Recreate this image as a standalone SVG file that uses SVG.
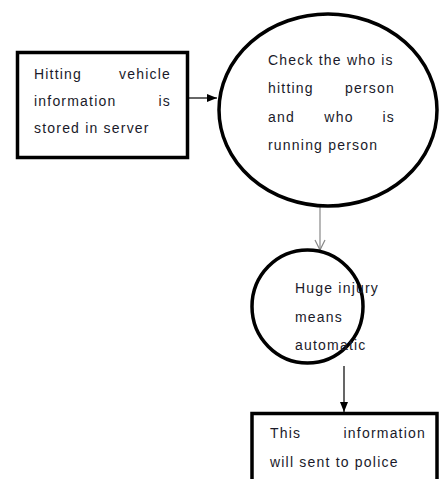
<svg xmlns="http://www.w3.org/2000/svg" width="440" height="479" viewBox="0 0 440 479">
<defs>
<style>
.box{fill:#fff;stroke:#000;stroke-width:3.5}
.t{font-family:"Liberation Sans",Arial,sans-serif;font-size:14px;letter-spacing:1.2px;fill:#1a1a2a}
.e{text-anchor:end}
.m{text-anchor:middle}
.ln{stroke:#000;stroke-width:1.2;fill:none}
.lg{stroke:#888;stroke-width:1.2;fill:none}
</style>
<marker id="fa" viewBox="0 0 10 10" refX="10" refY="5" markerWidth="10" markerHeight="10" markerUnits="userSpaceOnUse" orient="auto">
<path d="M0,1 L10,5 L0,9 Z" fill="#000"/>
</marker>
<marker id="oa" viewBox="0 0 12 12" refX="11" refY="6" markerWidth="12" markerHeight="12" markerUnits="userSpaceOnUse" orient="auto">
<path d="M1,1 L11,6 L1,11" fill="none" stroke="#888" stroke-width="1.2"/>
</marker>
</defs>
<rect width="440" height="479" fill="#fff"/>
<g id="connectors">
<line class="ln" x1="189" y1="98" x2="217" y2="98" marker-end="url(#fa)"/>
<line class="lg" x1="320" y1="206" x2="320" y2="250" marker-end="url(#oa)"/>
<line class="ln" x1="344" y1="366" x2="344" y2="412" marker-end="url(#fa)"/>
</g>
<g id="node1">
<rect class="box" x="17.5" y="52.5" width="170" height="105"/>
<text class="t" x="34" y="79">Hitting</text>
<text class="t e" x="171" y="79">vehicle</text>
<text class="t" x="34" y="106">information</text>
<text class="t e" x="171" y="106">is</text>
<text class="t" x="34" y="133">stored in server</text>
</g>
<g id="node2">
<ellipse class="box" cx="328" cy="110" rx="109" ry="96"/>
<text class="t" x="268" y="65">Check the who is</text>
<text class="t" x="268" y="93">hitting</text>
<text class="t e" x="395" y="93">person</text>
<text class="t" x="268" y="122">and</text>
<text class="t m" x="339" y="122">who</text>
<text class="t e" x="395" y="122">is</text>
<text class="t" x="268" y="150">running person</text>
</g>
<g id="node3">
<ellipse class="box" cx="307.5" cy="306.5" rx="55.5" ry="56.5"/>
<text class="t" x="295" y="293">Huge injury</text>
<text class="t" x="295" y="322">means</text>
<text class="t" x="295" y="350">automatic</text>
</g>
<g id="node4">
<rect class="box" x="252" y="413.5" width="185" height="75"/>
<text class="t" x="270" y="438">This</text>
<text class="t e" x="426" y="438">information</text>
<text class="t" x="270" y="467">will sent to police</text>
</g>
</svg>
